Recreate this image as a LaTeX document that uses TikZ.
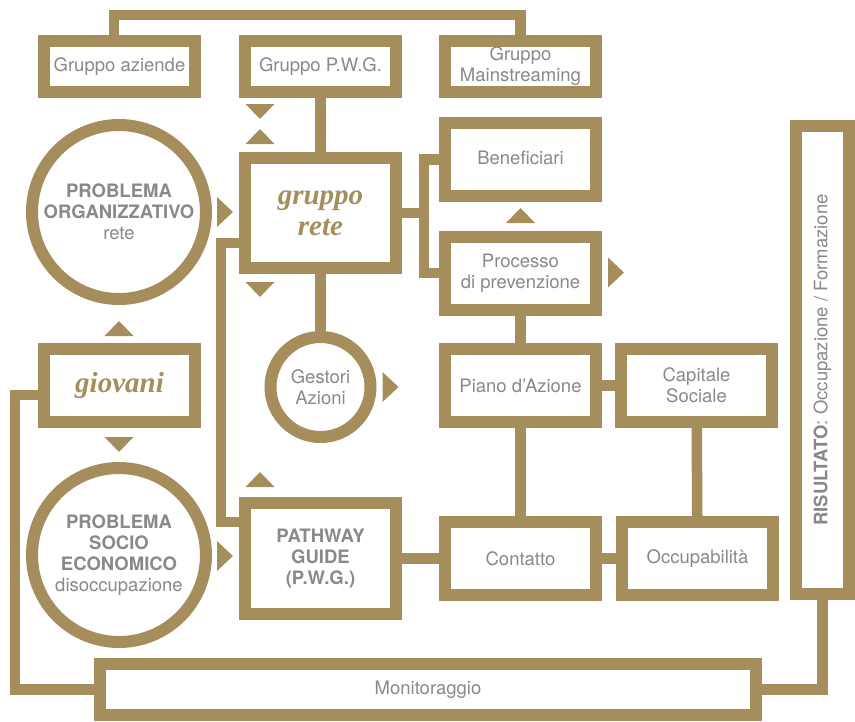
\documentclass[tikz,border=0pt]{standalone}
\usepackage{fontspec}
\setmainfont{TeX Gyre Heros}
\newfontfamily\itfont{Liberation Serif}
\usetikzlibrary{positioning}
\definecolor{gold}{RGB}{166,142,92}
\definecolor{txtgray}{RGB}{136,136,141}
\newcommand{\graytxt}{\fontsize{18.5}{21}\selectfont}
\newcommand{\goldtxt}{\itfont\bfseries\itshape\fontsize{29}{31}\selectfont}
% small markers
\newcommand{\tridown}[1]{\fill[gold] (#1) ++(-14.5,-7.5) -- ++(29,0) -- ++(-14.5,15) -- cycle;}
\newcommand{\triup}[1]{\fill[gold] (#1) ++(-14.5,7.5) -- ++(29,0) -- ++(-14.5,-15) -- cycle;}
\newcommand{\triright}[1]{\fill[gold] (#1) ++(-8,-15) -- ++(0,30) -- ++(16,-15) -- cycle;}

\begin{document}
\begin{tikzpicture}
[x=1pt,y=-1pt,
box/.style={draw=gold, line width=12pt, minimum width=151pt, minimum height=73pt,
  inner sep=0pt, align=center, text=txtgray, font=\graytxt},
ring/.style={circle, draw=gold, line width=12pt, minimum size=174pt,
  inner sep=0pt, align=center, text=txtgray, font=\graytxt},
link/.style={draw=gold, line width=10.5pt}]
\useasboundingbox (0,0) rectangle (855,721);

% top row
\node[box, minimum height=51pt] (aziende) at (119.5,66.5) {Gruppo aziende};
\node[box, minimum height=51pt, right=38pt of aziende] (gpwg) {Gruppo P.W.G.};
\node[box, minimum height=51pt, right=37pt of gpwg] (mainstr) {Gruppo\\Mainstreaming};

\node[ring] (org) at (119,212) {\textbf{PROBLEMA}\\\textbf{ORGANIZZATIVO}\\rete};
\node[box, minimum height=110pt, text=gold, font=\goldtxt] (rete) at (320.5,213) {gruppo\\rete};
\node[box] (benef) at (520.5,159.5) {\raisebox{4.5pt}{Beneficiari}};
\node[box] (proc) at (520.5,273) {Processo\\di prevenzione};

\node[box, text=gold, font=\goldtxt] (giovani) at (119.5,385.5) {giovani};
\node[ring, minimum size=100pt] (gestori) at (320.5,387) {Gestori\\Azioni};
\node[box] (piano) at (520.5,385.5) {Piano d'Azione};
\node[box, right=13pt of piano] (capitale) {Capitale\\Sociale};

\node[ring] (socio) at (119,555) {\textbf{PROBLEMA}\\\textbf{SOCIO}\\\textbf{ECONOMICO}\\disoccupazione};
\node[box, minimum height=111pt] (pathway) at (320.5,558.5) {\textbf{PATHWAY}\\\textbf{GUIDE}\\\textbf{(P.W.G.)}};
\node[box] (contatto) at (520.5,558.5) {Contatto};
\node[box, right=14pt of contatto] (occup) {Occupabilità};

\node[box, minimum width=53pt, minimum height=468pt] (risultato) at (822.5,360)
  {\rotatebox{90}{\textbf{RISULTATO}: Occupazione / Formazione}};
\node[box, minimum width=656pt, minimum height=51pt] (monit) at (428,689.5) {Monitoraggio};

% connectors
\coordinate (topbar) at (320,15);
\draw[link] ([xshift=-5.5pt]aziende.north) |- (topbar) -| (mainstr.north);
\draw[link] (gpwg) -- (rete);
\draw[link] (rete) -- (gestori);

\coordinate (rbr) at (424,213);
\draw[link] (rete.east) -- (rbr);
\draw[link] (benef.west) -| (rbr) |- (proc.west);

\coordinate (lb1) at (221,243);
\coordinate (lb2) at (221,522);
\draw[link] (rete.west |- lb1) -- (lb1) -- (lb2) -- (pathway.west |- lb2);

\draw[link] (proc) -- (piano);
\draw[link] (piano) -- (capitale);
\draw[link] (piano) -- (contatto);
\draw[link] (capitale) -- (occup);
\draw[link] (contatto) -- (occup);
\draw[link] (pathway) -- (contatto);

\coordinate (gl) at (15,395);
\draw[link] (giovani.west |- gl) -- (gl) |- (monit.west);
\draw[link] (monit.east) -| (risultato.south);

% markers
\tridown{260,111.5}
\triup{260,136.5}
\triright{225,212}
\tridown{260,289.5}
\triright{390.5,387}
\triup{119,328.5}
\tridown{119,444.5}
\triright{225,556}
\triup{260,479.5}
\triup{520.5,215.5}
\triright{616,272.5}
\end{tikzpicture}
\end{document}
